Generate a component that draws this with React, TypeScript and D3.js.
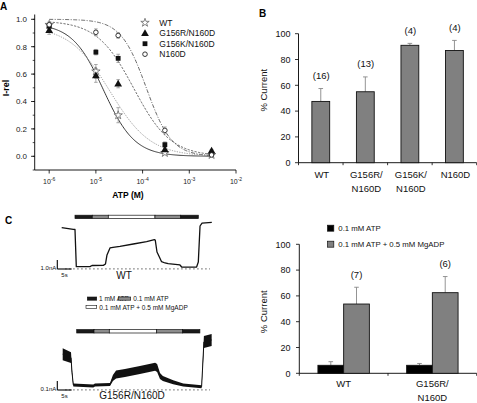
import React from "react";
import * as d3 from "d3";

// ---------- Panel A data ----------
const atpConc = [1e-6, 1e-5, 3e-5, 3e-4, 3e-3];
const seriesNames = ["WT", "G156R/N160D", "G156K/N160D", "N160D"];
const wtIrel = [0.96, 0.62, 0.3, 0.025, 0.01];
const wtErr = [0.02, 0.05, 0.055, 0.01, 0.01];
const g156rIrel = [0.92, 0.59, 0.53, 0.05, 0.04];
const g156rErr = [0.03, 0.05, 0.03, 0.02, 0.01];
const g156kIrel = [0.95, 0.76, 0.715, 0.085, 0.02];
const g156kErr = [0.02, 0.02, 0.03, 0.02, 0.01];
const n160dIrel = [0.96, 0.905, 0.882, 0.189, 0.01];
const n160dErr = [0.01, 0.025, 0.02, 0.025, 0.01];
// Hill fit parameters (top, IC50 in M, Hill coefficient)
const fitTop = [0.97, 0.95, 0.99, 1.0];
const fitIC50 = [1.45e-5, 2.0e-5, 6.5e-5, 1.2e-4];
const fitHill = [1.3, 1.0, 1.1, 1.6];
const xTicksA = [-6, -5, -4, -3, -2];
const yTicksA = [0, 0.2, 0.4, 0.6, 0.8, 1.0];

// ---------- Panel B data ----------
const catsB = ["WT", "G156R/N160D", "G156K/N160D", "N160D"];
const labelsB = [["WT"], ["G156R/", "N160D"], ["G156K/", "N160D"], ["N160D"]];
const currentB = [47.5, 55, 91, 87];
const errB = [10, 11.5, 1.5, 7.8];
const nB = ["(16)", "(13)", "(4)", "(4)"];
const yTicksB = [0, 20, 40, 60, 80, 100];

// ---------- Panel C (right) data ----------
const catsC = ["WT", "G156R/N160D"];
const labelsC = [["WT"], ["G156R/", "N160D"]];
const condC = ["0.1 mM ATP", "0.1 mM ATP + 0.5 mM MgADP"];
const atpOnly = [6.2, 6.2];
const atpOnlyErr = [2.8, 1.4];
const atpAdp = [53.7, 62.5];
const atpAdpErr = [13, 12.5];
const nC = ["(7)", "(6)"];

// ---------- Panel C traces (time s, current nA, noise half-width nA) ----------
const wtT = [0, 4.04, 4.63, 5.09, 9.86, 10.56, 14.5, 15.26, 15.78, 16.83, 17.87, 20.3, 24.95, 29.6, 32.3, 32.6, 33.2, 33.7, 34.8, 36, 37.1, 41.2, 41.8, 47.0, 47.6, 48.2, 48.9, 52.3];
const wtI = [4.51, 4.33, 4.31, 0.18, 0.18, 0.31, 0.33, 0.48, 1.48, 2.26, 2.33, 2.44, 2.7, 2.96, 3.18, 3.14, 1.81, 1.48, 0.73, 0.59, 0.51, 0.37, 0.14, 0.14, 0.7, 4.7, 5.03, 5.11];
const mutT = [0, 2.9, 3.24, 3.7, 10.66, 11.25, 16.5, 17.5, 18.6, 21.7, 26.9, 32.2, 32.9, 33.9, 34.9, 38.5, 42.0, 48.4, 48.7, 49.2, 51.9];
const mutI = [0.389, 0.351, 0.19, 0.048, 0.037, 0.048, 0.053, 0.126, 0.164, 0.181, 0.214, 0.251, 0.237, 0.148, 0.12, 0.078, 0.048, 0.029, 0.214, 0.526, 0.548];
const mutNoise = [0.067, 0.06, 0.03, 0.017, 0.017, 0.017, 0.017, 0.033, 0.045, 0.045, 0.045, 0.045, 0.045, 0.033, 0.028, 0.022, 0.017, 0.017, 0.03, 0.067, 0.067];
const solTypes = ["1 mM ATP", "0.1 mM ATP", "0.1 mM ATP + 0.5 mM MgADP", "0.1 mM ATP", "1 mM ATP"];
const wtSolEdges = [4.63, 10.66, 16.24, 32.5, 41.46, 47.6];
const mutSolEdges = [4.88, 10.91, 16.24, 32.75, 41.8, 47.8];

const FONT = "'Liberation Sans', Arial, Helvetica, sans-serif";
const solFill: Record<string, string> = {
  "1 mM ATP": "#1a1a1a",
  "0.1 mM ATP": "#8c8c8c",
  "0.1 mM ATP + 0.5 mM MgADP": "#ffffff",
};

function PanelA() {
  const x = d3.scaleLog().domain([Math.pow(10, -6.31), 1e-2]).range([34.7, 236]);
  const y = d3.scaleLinear().domain([-0.1, 1.0]).range([170, 19.3]);
  const values = [wtIrel, g156rIrel, g156kIrel, n160dIrel];
  const errs = [wtErr, g156rErr, g156kErr, n160dErr];
  const curveStyles = [
    { stroke: "#222", dash: "none", w: 0.9 },
    { stroke: "#9a9a9a", dash: "1.2,1.3", w: 1 },
    { stroke: "#555", dash: "2.2,1.4", w: 0.9 },
    { stroke: "#555", dash: "4,1.5,1,1.5", w: 0.9 },
  ];
  const logGrid = d3.range(-6, Math.log10(3e-3) + 0.001, 0.02).map((e) => Math.pow(10, e));
  const line = d3
    .line<[number, number]>()
    .x((d) => x(d[0]))
    .y((d) => y(d[1]))
    .curve(d3.curveMonotoneX);

  const sym = (i: number, cx: number, cy: number, key: string) => {
    if (i === 0) {
      const p = d3.symbol().type(d3.symbolStar).size(22)();
      return <path key={key} d={p as string} transform={`translate(${cx},${cy})`} fill="white" stroke="#666" strokeWidth={0.8} />;
    }
    if (i === 1) {
      const p = d3.symbol().type(d3.symbolTriangle).size(26)();
      return <path key={key} d={p as string} transform={`translate(${cx},${cy + 0.5})`} fill="#111" />;
    }
    if (i === 2) {
      return <rect key={key} x={cx - 2.4} y={cy - 2.4} width={4.8} height={4.8} fill="#111" />;
    }
    return <circle key={key} cx={cx} cy={cy} r={2.3} fill="white" stroke="#222" strokeWidth={0.9} />;
  };

  const minorY = d3.range(-0.1, 1.01, 0.1);
  return (
    <g fontFamily={FONT}>
      <text x={0} y={10} fontSize={10} fontWeight="bold">A</text>
      <line x1={34.7} x2={34.7} y1={y(-0.1)} y2={y(1.035)} stroke="#000" strokeWidth={0.9} />
      <line x1={34.7} x2={236} y1={170} y2={170} stroke="#000" strokeWidth={0.9} />
      {minorY.map((v, i) => (
        <line key={"my" + i} x1={34.7} x2={32.7} y1={y(v)} y2={y(v)} stroke="#000" strokeWidth={0.7} />
      ))}
      {yTicksA.map((v) => (
        <g key={"yt" + v}>
          <line x1={34.7} x2={31} y1={y(v)} y2={y(v)} stroke="#000" strokeWidth={0.8} />
          <text x={27} y={y(v) + 2.8} fontSize={8} textAnchor="end" fill="#222">{d3.format(".1f")(v)}</text>
        </g>
      ))}
      {xTicksA.map((e) => (
        <g key={"xt" + e}>
          <line x1={x(Math.pow(10, e))} x2={x(Math.pow(10, e))} y1={170} y2={173.5} stroke="#000" strokeWidth={0.8} />
          <text x={x(Math.pow(10, e))} y={184} fontSize={7} textAnchor="middle" fill="#222">
            10<tspan dy={-3} fontSize={5}>{"-" + Math.abs(e)}</tspan>
          </text>
        </g>
      ))}
      <text x={128} y={197.5} fontSize={8.5} fontWeight="bold" textAnchor="middle">ATP (M)</text>
      <text transform="translate(8.5,88) rotate(-90)" fontSize={9} fontWeight="bold" textAnchor="middle">I-rel</text>
      {fitTop.map((top, i) => (
        <path
          key={"fit" + i}
          d={line(logGrid.map((c) => [c, top / (1 + Math.pow(c / fitIC50[i], fitHill[i]))])) as string}
          fill="none"
          stroke={curveStyles[i].stroke}
          strokeWidth={curveStyles[i].w}
          strokeDasharray={curveStyles[i].dash}
        />
      ))}
      {values.map((vals, i) =>
        vals.map((v, j) => {
          const cx = x(atpConc[j]);
          const e = errs[i][j];
          return (
            <g key={`eb${i}-${j}`} stroke="#888" strokeWidth={0.7}>
              <line x1={cx} x2={cx} y1={y(v - e)} y2={y(v + e)} />
              <line x1={cx - 1.8} x2={cx + 1.8} y1={y(v - e)} y2={y(v - e)} />
              <line x1={cx - 1.8} x2={cx + 1.8} y1={y(v + e)} y2={y(v + e)} />
            </g>
          );
        })
      )}
      {values.map((vals, i) => vals.map((v, j) => sym(i, x(atpConc[j]), y(v), `pt${i}-${j}`)))}
      {seriesNames.map((n, i) => (
        <g key={"lg" + i}>
          {sym(i, 145, 22.7 + i * 10.5, "ls" + i)}
          <text x={159.3} y={22.7 + i * 10.5 + 3} fontSize={8.5} fill="#111">{n}</text>
        </g>
      ))}
    </g>
  );
}

function PanelB() {
  const x = d3.scaleBand<string>().domain(catsB).range([298.5, 476.7]).paddingInner(0.6).paddingOuter(0.3);
  const y = d3.scaleLinear().domain([0, 100]).range([162.7, 33.7]);
  const step = x.step();
  return (
    <g fontFamily={FONT}>
      <text x={259} y={16.5} fontSize={10} fontWeight="bold">B</text>
      <line x1={298.5} x2={298.5} y1={y(0)} y2={y(100)} stroke="#000" strokeWidth={0.9} />
      <line x1={298.5} x2={476.7} y1={y(0)} y2={y(0)} stroke="#000" strokeWidth={0.9} />
      {yTicksB.map((v) => (
        <g key={v}>
          <line x1={295} x2={298.5} y1={y(v)} y2={y(v)} stroke="#000" strokeWidth={0.8} />
          <text x={290.5} y={y(v) + 3.2} fontSize={9} textAnchor="end" fill="#111">{v}</text>
        </g>
      ))}
      {d3.range(catsB.length + 1).map((i) => (
        <line key={"bt" + i} x1={298.5 + i * step} x2={298.5 + i * step} y1={y(0)} y2={y(0) + 2.5} stroke="#000" strokeWidth={0.8} />
      ))}
      <text transform={`translate(267,${(y(0) + y(100)) / 2 - 8}) rotate(-90)`} fontSize={9.5} textAnchor="middle" fill="#111">% Current</text>
      {catsB.map((c, i) => {
        const bx = x(c) as number;
        const bw = x.bandwidth();
        const cx = bx + bw / 2;
        const top = currentB[i] + errB[i];
        return (
          <g key={c}>
            <line x1={cx} x2={cx} y1={y(currentB[i])} y2={y(top)} stroke="#888" strokeWidth={0.9} />
            <line x1={cx - 2.3} x2={cx + 2.3} y1={y(top)} y2={y(top)} stroke="#888" strokeWidth={0.9} />
            <rect x={bx} y={y(currentB[i])} width={bw} height={y(0) - y(currentB[i])} fill="#808080" stroke="#111" strokeWidth={0.9} />
            <text x={cx + 0.5} y={y(top) - 9.5} fontSize={9.5} textAnchor="middle" fill="#111">{nB[i]}</text>
            {labelsB[i].map((l, k) => (
              <text key={k} x={cx + 1} y={177.5 + k * 14} fontSize={9.5} textAnchor="middle" fill="#111">{l}</text>
            ))}
          </g>
        );
      })}
    </g>
  );
}

function PanelCRight() {
  const x = d3.scaleBand<string>().domain(catsC).range([299.3, 476.7]).paddingInner(0.42).paddingOuter(0.21);
  const sub = d3.scaleBand<number>().domain([0, 1]).range([0, x.bandwidth()]);
  const y = d3.scaleLinear().domain([0, 100]).range([373.3, 244.3]);
  const step = x.step();
  const vals = [atpOnly, atpAdp];
  const errs = [atpOnlyErr, atpAdpErr];
  const fills = ["#000", "#808080"];
  return (
    <g fontFamily={FONT}>
      <line x1={299.3} x2={299.3} y1={y(0)} y2={y(100)} stroke="#000" strokeWidth={0.9} />
      <line x1={299.3} x2={476.7} y1={y(0)} y2={y(0)} stroke="#000" strokeWidth={0.9} />
      {yTicksB.map((v) => (
        <g key={v}>
          <line x1={296} x2={299.3} y1={y(v)} y2={y(v)} stroke="#000" strokeWidth={0.8} />
          <text x={290.5} y={y(v) + 3.2} fontSize={9} textAnchor="end" fill="#111">{v}</text>
        </g>
      ))}
      {d3.range(catsC.length + 1).map((i) => (
        <line key={"ct" + i} x1={299.3 + i * step} x2={299.3 + i * step} y1={y(0)} y2={y(0) + 2.5} stroke="#000" strokeWidth={0.8} />
      ))}
      <text transform={`translate(267,${(y(0) + y(100)) / 2 + 3}) rotate(-90)`} fontSize={9.5} textAnchor="middle" fill="#111">% Current</text>
      {catsC.map((c, i) => {
        const gx = x(c) as number;
        return (
          <g key={c}>
            {vals.map((vs, s) => {
              const bx = gx + (sub(s) as number);
              const bw = sub.bandwidth();
              const cx = bx + bw / 2;
              const top = vs[i] + errs[s][i];
              return (
                <g key={s}>
                  <line x1={cx} x2={cx} y1={y(vs[i])} y2={y(top)} stroke="#888" strokeWidth={0.9} />
                  <line x1={cx - 2.3} x2={cx + 2.3} y1={y(top)} y2={y(top)} stroke="#888" strokeWidth={0.9} />
                  <rect x={bx} y={y(vs[i])} width={bw} height={y(0) - y(vs[i])} fill={fills[s]} stroke="#111" strokeWidth={0.9} />
                  {s === 1 && (
                    <text x={cx} y={y(top) - 9.5} fontSize={9.5} textAnchor="middle" fill="#111">{nC[i]}</text>
                  )}
                </g>
              );
            })}
            {labelsC[i].map((l, k) => (
              <text key={k} x={gx + x.bandwidth() / 2} y={386.5 + k * 14.5} fontSize={9.5} textAnchor="middle" fill="#111">{l}</text>
            ))}
          </g>
        );
      })}
      {condC.map((cnd, i) => (
        <g key={cnd}>
          <rect x={327.5} y={225.2 + i * 16} width={6.3} height={6} fill={fills[i]} stroke="#111" strokeWidth={0.7} />
          <text x={338.3} y={231 + i * 16} fontSize={7.8} fill="#111">{cnd}</text>
        </g>
      ))}
    </g>
  );
}

function Trace(props: {
  t: number[]; I: number[]; noise?: number[]; x0: number; yZero: number; pxPerNA: number;
  edges: number[]; barY: number; scaleLabel: string; scaleNA: number; name: string; nameX: number; nameY: number; strokeW: number;
}) {
  const { t, I, noise, x0, yZero, pxPerNA, edges, barY, scaleLabel, scaleNA, name, nameX, nameY, strokeW } = props;
  const x = d3.scaleLinear().domain([0, 1]).range([x0, x0 + 2.87]);
  const y = d3.scaleLinear().domain([0, 1]).range([yZero, yZero - pxPerNA]);
  const pts = t.map((tt, i) => [tt, I[i], noise ? noise[i] : 0] as [number, number, number]);
  const line = d3.line<[number, number, number]>().x((d) => x(d[0])).y((d) => y(d[1]));
  const area = d3.area<[number, number, number]>().x((d) => x(d[0])).y0((d) => y(d[1] - d[2])).y1((d) => y(d[1] + d[2]));
  const sbX = 57.3;
  const sbY = yZero + 0.7;
  return (
    <g fontFamily={FONT}>
      {solTypes.map((s, i) => (
        <rect key={i} x={x(edges[i])} y={barY} width={x(edges[i + 1]) - x(edges[i])} height={3.4} fill={solFill[s]} stroke="#111" strokeWidth={0.7} />
      ))}
      <line x1={65} x2={210} y1={yZero + 0.6} y2={yZero + 0.6} stroke="#555" strokeWidth={0.8} strokeDasharray="1.8,2.2" />
      {noise && <path d={area(pts) as string} fill="#111" />}
      <path d={line(pts) as string} fill="none" stroke="#111" strokeWidth={strokeW} strokeLinejoin="round" />
      <line x1={sbX} x2={sbX} y1={sbY} y2={sbY - (y(0) - y(scaleNA))} stroke="#000" strokeWidth={1.1} />
      <line x1={sbX} x2={sbX + (x(5) - x(0))} y1={sbY} y2={sbY} stroke="#000" strokeWidth={1.1} />
      <text x={56.3} y={sbY + 0.8} fontSize={6} textAnchor="end" fill="#111">{scaleLabel}</text>
      <text x={sbX + (x(5) - x(0)) / 2} y={sbY + 8} fontSize={6} textAnchor="middle" fill="#111">5s</text>
      <text x={nameX} y={nameY} fontSize={10} textAnchor="middle" fill="#111">{name}</text>
    </g>
  );
}

function PanelCLeft() {
  return (
    <g fontFamily={FONT}>
      <text x={5} y={224} fontSize={10} fontWeight="bold">C</text>
      <Trace t={wtT} I={wtI} x0={61.7} yZero={268.3} pxPerNA={9} edges={wtSolEdges} barY={215.2}
        scaleLabel="1.0nA" scaleNA={1} name="WT" nameX={124} nameY={279} strokeW={1.3} />
      <Trace t={mutT} I={mutI} noise={mutNoise} x0={62.7} yZero={389.3} pxPerNA={90} edges={mutSolEdges} barY={329.6}
        scaleLabel="0.1nA" scaleNA={0.1} name="G156R/N160D" nameX={132} nameY={399} strokeW={1} />
      <rect x={87.3} y={297} width={9.4} height={3.2} fill={solFill["1 mM ATP"]} stroke="#111" strokeWidth={0.6} />
      <text x={99} y={301.2} fontSize={6.5} fill="#111">1 mM ATP</text>
      <rect x={118.3} y={297} width={12.4} height={3.2} fill={solFill["0.1 mM ATP"]} stroke="#111" strokeWidth={0.6} />
      <text x={133.3} y={301.2} fontSize={6.5} fill="#111">0.1 mM ATP</text>
      <rect x={86} y={305.3} width={10.7} height={3.2} fill="#fff" stroke="#111" strokeWidth={0.6} />
      <text x={99.3} y={309.5} fontSize={6.5} fill="#111">0.1 mM ATP + 0.5 mM MgADP</text>
    </g>
  );
}

export default function App() {
  return (
    <svg width={477} height={403} viewBox="0 0 477 403" style={{ position: "absolute", left: 0, top: 0, background: "#fff" }}>
      <rect width={477} height={403} fill="#fff" />
      <PanelA />
      <PanelB />
      <PanelCLeft />
      <PanelCRight />
    </svg>
  );
}
